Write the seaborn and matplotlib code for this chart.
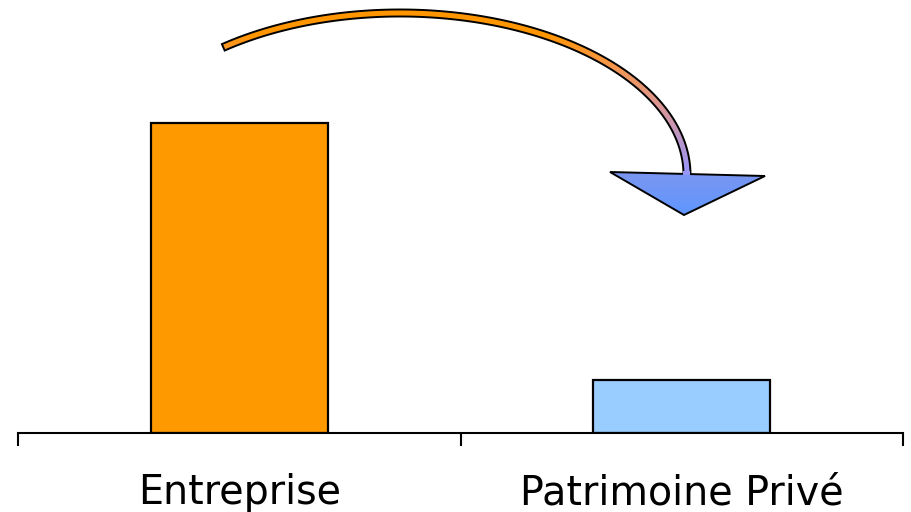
import numpy as np
import pandas as pd
import matplotlib
matplotlib.use("Agg")
import matplotlib.pyplot as plt
from matplotlib.patches import Polygon
import seaborn as sns

# Data
categories = ["Entreprise", "Patrimoine Privé"]
values = [100, 17]
bar_colors = ["#FF9900", "#99CCFF"]

df = pd.DataFrame({"categorie": categories, "valeur": values})

sns.set_theme(style="white")
plt.rcParams["font.family"] = ["DejaVu Sans"]

W, H = 911, 512
fig = plt.figure(figsize=(W / 100, H / 100), dpi=100)
fig.patch.set_facecolor("white")

# Main bar axes: baseline at y=433 px, spanning x 18..903 px
ax = fig.add_axes([18 / W, (H - 433) / H, (903 - 18) / W, 433 / H])
sns.barplot(data=df, x="categorie", y="valeur", hue="categorie",
            palette=bar_colors, width=0.4, saturation=1,
            edgecolor="black", linewidth=1.6, legend=False, ax=ax)

ax.set_xlim(-0.5, 1.5)
ax.set_ylim(0, max(values) * 433 / 310)
ax.set_xlabel("")
ax.set_ylabel("")
ax.set_yticks([])
for side in ["left", "right", "top"]:
    ax.spines[side].set_visible(False)
ax.spines["bottom"].set_color("black")
ax.spines["bottom"].set_linewidth(1.5)

ax.set_xticks([0, 1])
ax.set_xticklabels(categories, fontsize=28.5, color="black")
ax.tick_params(axis="x", which="major", length=0, pad=29)
ax.set_xticks([-0.5, 0.5, 1.5], minor=True)
ax.tick_params(axis="x", which="minor", length=9, width=1.5, color="black",
               direction="out", bottom=True)

# Overlay in pixel coordinates for the curved transfer arrow
ov = fig.add_axes([0, 0, 1, 1], zorder=5)
ov.patch.set_alpha(0)
ov.axis("off")

cx, cy, rx, ry = 400.0, 175.0, 287.0, 162.0
half = 3.5
theta = np.linspace(np.deg2rad(128.0), 0.0, 240)
px = cx + rx * np.cos(theta)
py = cy - ry * np.sin(theta)
nx = np.cos(theta) / rx
ny = -np.sin(theta) / ry
nn = np.hypot(nx, ny)
nx, ny = nx / nn, ny / nn
outer = np.column_stack([px + half * nx, py + half * ny])
inner = np.column_stack([px - half * nx, py - half * ny])
outer[-1, 1] = 175.0
inner[-1, 1] = 175.0
shaft_poly = np.vstack([outer, inner[::-1]])

head = np.array([[610, 172], [765, 176], [684, 215]])

# shaft gradient: orange at the top turning violet then blue downwards
ys = np.linspace(0, H, H)
orange = np.array([255, 153, 0]) / 255
blue = np.array([100, 150, 255]) / 255
fr = np.clip((ys - 35) / (215 - 35), 0, 1) ** 1.5
fb = np.clip((ys - 35) / (175 - 35), 0, 1) ** 0.8
shaft_grad = np.column_stack([
    orange[0] + (blue[0] - orange[0]) * fr,
    np.full_like(ys, 0.59),
    orange[2] + (blue[2] - orange[2]) * fb,
])
shaft_img = np.repeat(shaft_grad[:, None, :], 2, axis=1)

# arrowhead gradient
top_c = np.array([122, 150, 240]) / 255
bot_c = np.array([96, 150, 255]) / 255
fh = np.clip((ys - 172) / (215 - 172), 0, 1)[:, None]
head_img = np.repeat((top_c * (1 - fh) + bot_c * fh)[:, None, :], 2, axis=1)

for poly, img, z in [(shaft_poly, shaft_img, 1), (head, head_img, 3)]:
    patch = Polygon(poly, closed=True, facecolor="none", edgecolor="none")
    ov.add_patch(patch)
    im = ov.imshow(img, extent=[0, W, H, 0], aspect="auto", zorder=z,
                   interpolation="bilinear")
    im.set_clip_path(patch)
    ov.add_patch(Polygon(poly, closed=True, facecolor="none",
                         edgecolor="black", linewidth=1.4, zorder=z + 1,
                         joinstyle="miter"))

# open the joint so the shaft flows into the head
joint = Polygon([[683.0, 170.5], [690.0, 170.5], [690.0, 174.8], [683.0, 174.8]],
                closed=True, facecolor="none", edgecolor="none")
ov.add_patch(joint)
jim = ov.imshow(shaft_img, extent=[0, W, H, 0], aspect="auto", zorder=5,
                interpolation="bilinear")
jim.set_clip_path(joint)

ov.set_xlim(0, W)
ov.set_ylim(H, 0)

fig.savefig("out.png", dpi=100, facecolor="white")
